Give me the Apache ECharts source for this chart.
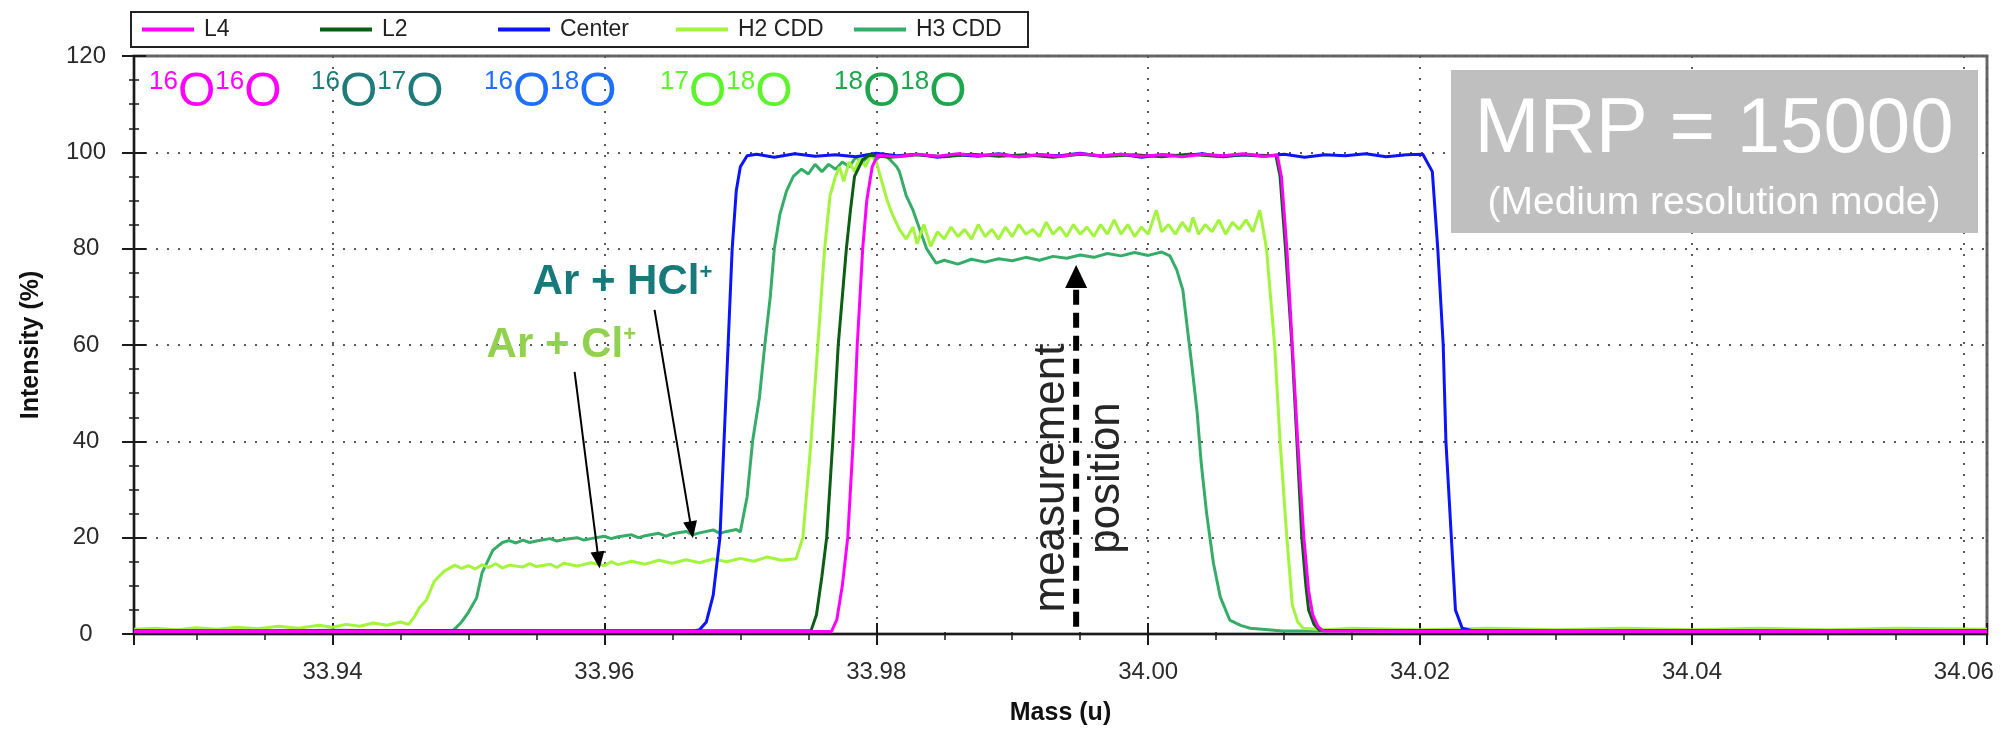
<!DOCTYPE html>
<html>
<head>
<meta charset="utf-8">
<script src="https://cdn.jsdelivr.net/npm/echarts@6/dist/echarts.min.js"></script>
<style>
  html, body { margin: 0; padding: 0; background: #ffffff; }
  #chart { width: 2013px; height: 731px; }
</style>
</head>
<body>
<div id="chart"></div>
<script>
// ---- Peak scans: [mass (u), intensity (%)] ----
const traceL4 = [
  [33.9254, 0.5], [33.9400, 0.5], [33.9600, 0.5], [33.9767, 0.5], [33.9771, 3], [33.9775, 10],
  [33.9779, 20], [33.9783, 40], [33.9786, 60], [33.9790, 80], [33.9793, 90], [33.9797, 97],
  [33.9801, 99.4], [33.9815, 99.1], [33.9830, 99.6], [33.9845, 99.2], [33.9860, 99.7], [33.9875, 99.3],
  [33.9890, 99.6], [33.9905, 99.1], [33.9920, 99.5], [33.9935, 99.2], [33.9950, 99.7], [33.9965, 99.3],
  [33.9980, 99.6], [33.9995, 99.2], [34.0010, 99.5], [34.0025, 99.1], [34.0040, 99.6], [34.0055, 99.3],
  [34.0070, 99.7], [34.0085, 99.2], [34.0095, 99.4], [34.0098, 95], [34.0102, 80], [34.0106, 60],
  [34.0110, 40], [34.01145, 20], [34.0118, 9], [34.0121, 4], [34.0125, 1.5], [34.0129, 0.6],
  [34.0200, 0.5], [34.0400, 0.5], [34.0617, 0.5]
];

const traceL2 = [
  [33.9254, 0.7], [33.9500, 0.7], [33.9752, 0.7], [33.9756, 4], [33.9760, 12], [33.97635, 20],
  [33.9768, 40], [33.9772, 60], [33.9778, 80], [33.9781, 88], [33.9784, 95], [33.9790, 98.5],
  [33.9795, 99.4], [33.9810, 99.0], [33.9830, 99.5], [33.9850, 99.1], [33.9870, 99.6], [33.9890, 99.2],
  [33.9910, 99.5], [33.9930, 99.0], [33.9950, 99.6], [33.9970, 99.2], [33.9990, 99.5], [34.0010, 99.1],
  [34.0030, 99.6], [34.0050, 99.2], [34.0070, 99.5], [34.0094, 99.3], [34.0097, 95], [34.0101, 80],
  [34.01057, 60], [34.01094, 40], [34.0113, 20], [34.0116, 10], [34.0118, 5], [34.0122, 2],
  [34.0126, 0.8], [34.0300, 0.7], [34.0617, 0.7]
];

const traceCenter = [
  [33.9254, 0.6], [33.9350, 0.5], [33.9450, 0.7], [33.9550, 0.6], [33.9665, 0.6], [33.9670, 0.9],
  [33.9675, 2.5], [33.9680, 8], [33.9685, 20], [33.9688, 40], [33.9691, 60], [33.9694, 80],
  [33.9697, 92], [33.9700, 97], [33.9705, 99.3], [33.9712, 99.6], [33.9725, 99.0], [33.9740, 99.7],
  [33.9755, 99.2], [33.9770, 99.5], [33.9785, 99.1], [33.9800, 99.8], [33.9815, 99.3], [33.9830, 99.6],
  [33.9845, 99.0], [33.9860, 99.5], [33.9875, 99.2], [33.9890, 99.7], [33.9905, 99.1], [33.9920, 99.5],
  [33.9935, 99.3], [33.9950, 99.8], [33.9965, 99.2], [33.9980, 99.6], [33.9995, 99.0], [34.0010, 99.5],
  [34.0025, 99.3], [34.0040, 99.7], [34.0055, 99.1], [34.0070, 99.5], [34.0085, 99.2], [34.0100, 99.6],
  [34.0115, 99.0], [34.0130, 99.5], [34.0145, 99.3], [34.0160, 99.7], [34.0175, 99.1], [34.0190, 99.5],
  [34.0202, 99.6], [34.0209, 96], [34.0213, 80], [34.0217, 60], [34.0219, 40], [34.0223, 20],
  [34.0226, 5], [34.0231, 1.2], [34.0240, 0.6], [34.0300, 0.5], [34.0400, 0.6], [34.0500, 0.5],
  [34.0617, 0.6]
];

const traceH2 = [
  [33.9254, 1.0], [33.9270, 1.2], [33.9285, 0.9], [33.9300, 1.3], [33.9315, 1.0], [33.9330, 1.4],
  [33.9345, 1.1], [33.9360, 1.6], [33.9375, 1.2], [33.9390, 1.8], [33.9400, 1.4], [33.9410, 2.0],
  [33.9420, 1.6], [33.9430, 2.3], [33.9440, 1.8], [33.9450, 2.5], [33.9456, 2.0], [33.9460, 3.5],
  [33.9464, 5.5], [33.9469, 7], [33.9475, 11], [33.9482, 13], [33.9490, 14.3], [33.9495, 13.6],
  [33.9500, 14.2], [33.9505, 13.5], [33.9510, 14.4], [33.9515, 13.8], [33.9520, 14.6], [33.9525, 13.7],
  [33.9530, 14.3], [33.9540, 13.9], [33.9545, 14.6], [33.9550, 14.0], [33.9560, 14.5], [33.9565, 13.8],
  [33.9570, 14.7], [33.9580, 14.1], [33.9590, 14.8], [33.9600, 14.2], [33.9605, 15.0], [33.9610, 14.4],
  [33.9620, 15.1], [33.9630, 14.5], [33.9640, 15.3], [33.9650, 14.7], [33.9660, 15.4], [33.9670, 14.8],
  [33.9680, 15.6], [33.9690, 15.0], [33.9700, 15.7], [33.9710, 15.1], [33.9720, 16.0], [33.9730, 15.3],
  [33.9741, 15.6], [33.9746, 20], [33.9752, 40], [33.9757, 60], [33.9762, 80], [33.9766, 91],
  [33.9770, 95], [33.9773, 97], [33.9776, 94], [33.9780, 98], [33.9784, 96], [33.9788, 99],
  [33.9792, 97], [33.9796, 99.5], [33.9800, 98], [33.9803, 95], [33.9808, 90], [33.9812, 87],
  [33.9817, 84], [33.9822, 82], [33.9827, 84.5], [33.9830, 81], [33.9835, 85], [33.9840, 80.5],
  [33.9845, 83.5], [33.9850, 82], [33.9855, 84.5], [33.9860, 82.5], [33.9865, 84], [33.9870, 82],
  [33.9875, 85], [33.9880, 82.5], [33.9885, 84], [33.9890, 82], [33.9895, 84.5], [33.9900, 82.5],
  [33.9905, 85], [33.9910, 83], [33.9915, 84], [33.9920, 82.5], [33.9925, 85.5], [33.9930, 83],
  [33.9935, 84.5], [33.9940, 82.5], [33.9945, 85], [33.9950, 83], [33.9955, 84.5], [33.9960, 82.5],
  [33.9965, 85], [33.9970, 83], [33.9975, 86], [33.9980, 83], [33.9985, 85], [33.9990, 82.5],
  [33.9995, 84.5], [34.0000, 83], [34.0006, 88], [34.0010, 83.5], [34.0015, 85], [34.0020, 83],
  [34.0025, 85.5], [34.0030, 83.5], [34.0033, 86.5], [34.0037, 83], [34.0042, 85], [34.0047, 83.5],
  [34.0052, 86], [34.0057, 83], [34.0062, 85.5], [34.0067, 84], [34.0072, 86], [34.0077, 83.5],
  [34.0082, 88], [34.0084, 85], [34.0087, 80], [34.0093, 60], [34.0097, 40], [34.0102, 20],
  [34.0106, 6], [34.0110, 2.5], [34.0114, 1.2], [34.0130, 0.9], [34.0150, 1.2], [34.0200, 0.9],
  [34.0250, 1.2], [34.0300, 0.9], [34.0350, 1.2], [34.0400, 0.9], [34.0450, 1.2], [34.0500, 0.9],
  [34.0550, 1.2], [34.0617, 1.0]
];

const traceH3 = [
  [33.9254, 0.6], [33.9300, 0.7], [33.9350, 0.6], [33.9400, 0.8], [33.9450, 0.7], [33.9489, 0.8],
  [33.9495, 2.5], [33.9500, 4.5], [33.9506, 7.5], [33.9510, 12.7], [33.9518, 17.4], [33.9525, 19.0],
  [33.9530, 19.4], [33.9535, 18.9], [33.9540, 19.5], [33.9545, 19.0], [33.9550, 19.3], [33.9560, 19.8],
  [33.9565, 19.3], [33.9570, 19.6], [33.9580, 20.0], [33.9585, 19.5], [33.9590, 19.8], [33.9600, 20.3],
  [33.9605, 19.8], [33.9610, 20.2], [33.9620, 20.6], [33.9625, 20.0], [33.9630, 20.4], [33.9640, 20.9],
  [33.9645, 20.3], [33.9650, 20.8], [33.9660, 21.3], [33.9665, 20.6], [33.9670, 21.0], [33.9680, 21.6],
  [33.9685, 20.9], [33.9690, 21.3], [33.9697, 21.7], [33.9700, 21.2], [33.9705, 28.5], [33.9709, 40],
  [33.9714, 49], [33.9718, 60], [33.9722, 70], [33.9725, 80], [33.9729, 87], [33.9734, 92],
  [33.9739, 95], [33.9745, 96.5], [33.9750, 95.5], [33.9755, 97.5], [33.9760, 96], [33.9765, 97.5],
  [33.9770, 96.5], [33.9775, 98], [33.9780, 97], [33.9785, 99], [33.9790, 98], [33.9795, 99.5],
  [33.9800, 98.5], [33.9805, 99.8], [33.9810, 98.5], [33.9815, 97], [33.9817, 96], [33.9822, 91],
  [33.9827, 88], [33.9832, 84], [33.9837, 80], [33.9844, 77], [33.9850, 77.6], [33.9860, 76.8],
  [33.9870, 77.8], [33.9880, 77.2], [33.9890, 77.9], [33.9900, 77.5], [33.9910, 78.2], [33.9920, 77.6],
  [33.9930, 78.4], [33.9940, 78.0], [33.9950, 78.7], [33.9960, 78.2], [33.9970, 79.0], [33.9980, 78.5],
  [33.9990, 79.2], [34.0000, 78.6], [34.0010, 79.3], [34.0016, 78.5], [34.0021, 75.6], [34.00255, 71.4],
  [34.0029, 63], [34.0032, 56], [34.0036, 46], [34.0039, 35.5], [34.0043, 25], [34.0048, 14.7],
  [34.0053, 7.7], [34.0060, 2.9], [34.0068, 1.8], [34.0075, 1.2], [34.0099, 0.6], [34.0200, 0.6],
  [34.0400, 0.6], [34.0617, 0.6]
];

// ---- Axis ranges and legend entries ----
const massRange = [33.9254, 34.0617];
const intensityRange = [0, 120];
const intensityStep = 20;
const legendNames = ['L4', 'L2', 'Center', 'H2 CDD', 'H3 CDD'];

// ---- Isotopologue labels along the top of the plot ----
const isotopeLabels = [
  { a: '16', b: '16', color: '#ff00ff' },
  { a: '16', b: '17', color: '#1f7a7a' },
  { a: '16', b: '18', color: '#1f6fff' },
  { a: '17', b: '18', color: '#5cf52c' },
  { a: '18', b: '18', color: '#1ea64c' }
];

// ---- Arrow annotations in data coordinates ([mass, intensity]) ----
const arrowHCl = { tail: [33.96369, 67.3], tip: [33.96651, 19.9] };
const arrowCl = { tail: [33.95781, 54.4], tip: [33.95965, 13.6] };
const arrowMeasure = { tail: [33.9947, 1.5], tip: [33.9947, 76.6] };

const FONT = "'Liberation Sans', Arial, Helvetica, sans-serif";
const AXIS_DARK = '#1a1a1a';
const GRID_DOT = { color: '#5a5a5a', width: 2, type: [2, 9] };

const seriesStyle = {
  'L4': '#ff00ff',
  'L2': '#0b5e14',
  'Center': '#0a14ff',
  'H2 CDD': '#a2f53c',
  'H3 CDD': '#35ad68'
};

function lineSeries(name, data, z) {
  return {
    name: name,
    type: 'line',
    data: data,
    symbol: 'none',
    showSymbol: false,
    smooth: false,
    clip: true,
    z: z,
    lineStyle: { color: seriesStyle[name], width: 3 },
    itemStyle: { color: seriesStyle[name] },
    emphasis: { disabled: true }
  };
}

function xAxisDef(inside) {
  const base = {
    type: 'value',
    gridIndex: 0,
    position: 'bottom',
    min: massRange[0],
    max: massRange[1],
    splitNumber: 7,
    axisLine: { show: !inside, onZero: false, lineStyle: { color: AXIS_DARK, width: 2 } },
    axisTick: { show: true, inside: inside, length: 11, lineStyle: { color: AXIS_DARK, width: 2 } },
    minorTick: { show: true, splitNumber: 4, length: inside ? 2 : 6, lineStyle: { color: AXIS_DARK, width: 1.5 } },
    splitLine: { show: !inside, lineStyle: GRID_DOT },
    axisLabel: { show: false }
  };
  if (!inside) {
    base.axisLabel = {
      show: true, showMinLabel: false, showMaxLabel: false, margin: 26,
      fontSize: 24, color: '#2b2b2b', fontFamily: FONT,
      formatter: function (v) { return v.toFixed(2); }
    };
    base.name = 'Mass (u)';
    base.nameLocation = 'middle';
    base.nameGap = 67;
    base.nameMoveOverlap = false;
    base.nameTextStyle = { fontSize: 25, fontWeight: 'bold', color: '#111', fontFamily: FONT };
  }
  return base;
}

function yAxisDef(inside) {
  const base = {
    type: 'value',
    gridIndex: 0,
    position: 'left',
    min: intensityRange[0],
    max: intensityRange[1],
    interval: intensityStep,
    axisLine: { show: !inside, onZero: false, lineStyle: { color: AXIS_DARK, width: 2 } },
    axisTick: { show: true, inside: inside, length: 12, lineStyle: { color: AXIS_DARK, width: 2 } },
    minorTick: { show: true, splitNumber: 4, length: 5, lineStyle: { color: AXIS_DARK, width: 1.5 } },
    splitLine: { show: !inside, lineStyle: GRID_DOT },
    axisLabel: { show: false }
  };
  if (!inside) {
    base.axisLabel = {
      show: true, align: 'center', margin: 48,
      fontSize: 24, color: '#2b2b2b', fontFamily: FONT
    };
    base.name = 'Intensity (%)';
    base.nameLocation = 'middle';
    base.nameRotate = 90;
    base.nameGap = 90;
    base.nameMoveOverlap = false;
    base.nameTextStyle = { fontSize: 25, fontWeight: 'bold', color: '#111', fontFamily: FONT };
  }
  return base;
}

// one legend block per entry so the entries sit on an even pitch
const legendPitch = 178;
const legends = legendNames.map(function (name, i) {
  return {
    data: [name],
    left: 142 + legendPitch * i,
    top: 18,
    padding: 0,
    icon: 'rect',
    itemWidth: 52,
    itemHeight: 4,
    selectedMode: false,
    textStyle: { fontSize: 23, color: '#222', fontFamily: FONT, padding: [0, 0, 0, 5] }
  };
});

const chart = echarts.init(document.getElementById('chart'), null, { renderer: 'canvas' });

const option = {
  animation: false,
  backgroundColor: '#ffffff',
  grid: {
    left: 134, right: 26, top: 56, bottom: 97,
    containLabel: false,
    outerBoundsMode: 'none',
    show: true,
    backgroundColor: 'transparent',
    borderColor: '#666666',
    borderWidth: 3
  },
  legend: legends,
  xAxis: [xAxisDef(false), xAxisDef(true)],
  yAxis: [yAxisDef(false), yAxisDef(true)],
  series: [
    lineSeries('H3 CDD', traceH3, 2),
    lineSeries('H2 CDD', traceH2, 3),
    lineSeries('Center', traceCenter, 4),
    lineSeries('L2', traceL2, 5),
    lineSeries('L4', traceL4, 6)
  ]
};

chart.setOption(option);

// ---- Annotation layer placed from the axes ----
function toPx(pt) {
  return chart.convertToPixel({ seriesIndex: 0 }, pt);
}

function arrowShapes(tailPt, tipPt, headLen, headW, lineW, dash) {
  const tail = toPx(tailPt), tip = toPx(tipPt);
  const dx = tip[0] - tail[0], dy = tip[1] - tail[1];
  const len = Math.hypot(dx, dy);
  const ux = dx / len, uy = dy / len;
  const base = [tip[0] - ux * headLen, tip[1] - uy * headLen];
  const nx = -uy, ny = ux;
  return [
    {
      type: 'line', silent: true, z: 60,
      shape: { x1: tail[0], y1: tail[1], x2: base[0] + ux * 1, y2: base[1] + uy * 1 },
      style: { stroke: '#000', lineWidth: lineW, lineDash: dash || null, lineCap: 'butt' }
    },
    {
      type: 'polygon', silent: true, z: 60,
      shape: { points: [tip, [base[0] + nx * headW / 2, base[1] + ny * headW / 2], [base[0] - nx * headW / 2, base[1] - ny * headW / 2]] },
      style: { fill: '#000' }
    }
  ];
}

const graphics = [];

// legend frame
graphics.push({
  type: 'rect', silent: true, z: 0,
  shape: { x: 131, y: 12, width: 897, height: 35 },
  style: { fill: '#ffffff', stroke: '#222', lineWidth: 2 }
});

// isotopologue labels
const isoLeft = [149, 311, 484, 660, 834];
isotopeLabels.forEach(function (lab, i) {
  graphics.push({
    type: 'text', silent: true, z: 50,
    x: isoLeft[i], y: 93,
    style: {
      text: '{s|' + lab.a + '}{o|O}{s|' + lab.b + '}{o|O}',
      verticalAlign: 'middle', align: 'left',
      rich: {
        s: { fontSize: 26, fill: lab.color, fontFamily: FONT, verticalAlign: 'top' },
        o: { fontSize: 48, fill: lab.color, fontFamily: FONT }
      }
    }
  });
});

// MRP box
graphics.push({
  type: 'rect', silent: true, z: 50,
  shape: { x: 1451, y: 70, width: 527, height: 163 },
  style: { fill: '#bfbfbf' }
});
graphics.push({
  type: 'text', silent: true, z: 51, x: 1714, y: 130,
  style: { text: 'MRP = 15000', fill: '#ffffff', fontSize: 78, fontFamily: FONT, align: 'center', verticalAlign: 'middle' }
});
graphics.push({
  type: 'text', silent: true, z: 51, x: 1714, y: 203,
  style: { text: '(Medium resolution mode)', fill: '#ffffff', fontSize: 39, fontFamily: FONT, align: 'center', verticalAlign: 'middle' }
});

// interference labels and arrows
const hclTail = toPx(arrowHCl.tail);
graphics.push({
  type: 'text', silent: true, z: 55,
  x: hclTail[0] - 122, y: hclTail[1] - 27,
  style: {
    text: '{t|Ar + HCl}{p|+}', align: 'left', verticalAlign: 'middle',
    rich: {
      t: { fontSize: 42, fontWeight: 'bold', fill: '#17797a', fontFamily: FONT },
      p: { fontSize: 22, fontWeight: 'bold', fill: '#17797a', fontFamily: FONT, verticalAlign: 'top' }
    }
  }
});
const clTail = toPx(arrowCl.tail);
graphics.push({
  type: 'text', silent: true, z: 55,
  x: clTail[0] - 88, y: clTail[1] - 27,
  style: {
    text: '{t|Ar + Cl}{p|+}', align: 'left', verticalAlign: 'middle',
    rich: {
      t: { fontSize: 42, fontWeight: 'bold', fill: '#92d050', fontFamily: FONT },
      p: { fontSize: 22, fontWeight: 'bold', fill: '#92d050', fontFamily: FONT, verticalAlign: 'top' }
    }
  }
});
arrowShapes(arrowHCl.tail, arrowHCl.tip, 17, 14, 2).forEach(function (g) { graphics.push(g); });
arrowShapes(arrowCl.tail, arrowCl.tip, 17, 14, 2).forEach(function (g) { graphics.push(g); });

// measurement position marker
arrowShapes(arrowMeasure.tail, arrowMeasure.tip, 23, 22, 6, [15, 8]).forEach(function (g) { graphics.push(g); });
const measX = toPx(arrowMeasure.tip)[0];
graphics.push({
  type: 'text', silent: true, z: 55,
  x: measX + 3, y: 478, rotation: Math.PI / 2,
  style: {
    text: 'measurement\nposition', fill: '#262626', fontSize: 44, lineHeight: 55,
    fontFamily: FONT, align: 'center', verticalAlign: 'middle'
  }
});

chart.setOption({ graphic: graphics });
</script>
</body>
</html>
